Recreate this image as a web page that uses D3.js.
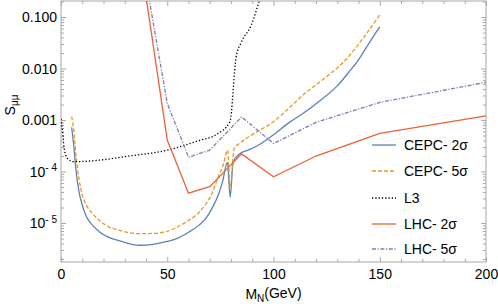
<!DOCTYPE html>
<html>
<head>
<meta charset="utf-8">
<script src="https://cdn.jsdelivr.net/npm/d3@7"></script>
<style>
body { margin: 0; background: #fff; }
text { font-family: "Liberation Sans", Arial, sans-serif; }
</style>
</head>
<body>
<div id="chart"></div>
<script>
var width = 498;
var height = 304;

// [M_N (GeV), S_mumu]
var cepc2sigma = [[5,7.2e-4],[6,3.2e-4],[7,1.12e-4],[8.5,4.0e-5],[10,2.24e-5],[12,1.32e-5],[15,8.9e-6],
  [18,6.8e-6],[22,5.4e-6],[26,4.7e-6],[30,4.2e-6],[37,3.7e-6],[44,3.9e-6],[50,4.4e-6],[55,5.1e-6],
  [60,6.6e-6],[65,9.1e-6],[68,1.2e-5],[71,1.9e-5],[74,3.5e-5],[76,6.3e-5],[78.3,1.5e-4],[79.6,3.2e-5],
  [81,1.5e-4],[84,2.2e-4],[88,2.6e-4],[92,3.1e-4],[100,5.2e-4],[107,8.7e-4],[114,1.35e-3],[122,2.4e-3],
  [130,4.6e-3],[136,9.1e-3],[140,1.48e-2],[144,2.7e-2],[150,6.5e-2]];

var cepc5sigma = [[5,1.17e-3],[6,6.5e-4],[7,2.2e-4],[8.5,7.1e-5],[10,3.5e-5],[12,2.2e-5],[15,1.5e-5],
  [21,9.1e-6],[28,7.1e-6],[37,6.2e-6],[44,6.3e-6],[50,6.9e-6],[55,8.5e-6],[60,1.12e-5],[65,1.62e-5],
  [68,2.3e-5],[71,3.7e-5],[74,7.9e-5],[76.5,1.4e-4],[78.4,2.6e-4],[79.6,5.1e-5],[81.5,2.8e-4],
  [84,3.5e-4],[90,5.2e-4],[100,9.3e-4],[107,1.66e-3],[114,3.1e-3],[123,6.0e-3],[134,1.48e-2],
  [142,3.8e-2],[150,0.11]];

var l3 = [[0,1.05e-3],[0.7,6.3e-4],[1.5,2.8e-4],[3,1.8e-4],[6,1.55e-4],[18,1.66e-4],[30,1.95e-4],
  [50,2.6e-4],[65,4.0e-4],[73,5.2e-4],[79.5,9.3e-4],[82.4,1.66e-2],[84.8,3.2e-2],[89.5,6.9e-2],
  [93.4,0.21],[96,0.45]];

var lhc2sigma = [[40,0.25],[50,4.1e-4],[60,3.8e-5],[70,5.1e-5],[85,2.2e-4],[100,7.9e-5],[120,2.0e-4],
  [150,5.5e-4],[200,1.2e-3]];

var lhc5sigma = [[40,0.5],[50,2.1e-3],[60,1.9e-4],[70,2.6e-4],[85,1.15e-3],[100,3.5e-4],[120,9.0e-4],
  [150,2.2e-3],[200,5.4e-3]];

var xTicks = [0, 50, 100, 150, 200];
var yTicks = [1e-5, 1e-4, 1e-3, 1e-2, 1e-1];
var yTickLabels = ["10|-5", "10|-4", "0.001", "0.010", "0.100"];

var legendNames = ["CEPC- 2\u03c3", "CEPC- 5\u03c3", "L3", "LHC- 2\u03c3", "LHC- 5\u03c3"];

// styles
var series = [
  {data: cepc2sigma, color: "#5e81b5", dash: null, curve: d3.curveMonotoneX},
  {data: cepc5sigma, color: "#e19c24", dash: "4,2", curve: d3.curveMonotoneX},
  {data: l3, color: "#000000", dash: "1.3,2", curve: d3.curveMonotoneX},
  {data: lhc2sigma, color: "#eb6235", dash: null, curve: d3.curveLinear},
  {data: lhc5sigma, color: "#8778b3", dash: "4,1.6,1.2,1.6", curve: d3.curveLinear}
];

var plotLeft = 61, plotRight = 486, plotTop = 1, plotBottom = 262;
var frameColor = "#a8a8a8";

var svg = d3.select("#chart").append("svg")
  .attr("width", width)
  .attr("height", height);

var x = d3.scaleLinear().domain([0, 200]).range([plotLeft, plotRight]);
var y = d3.scaleLog().domain([1.75e-6, 0.205]).range([plotBottom, plotTop]);

// minor tick positions
var xMinor = d3.range(0, 201, 10).filter(function(v){ return v % 50 != 0; });
var yMinor = [];
[1e-6, 1e-5, 1e-4, 1e-3, 1e-2, 1e-1].forEach(function(d){
  for (var k = 2; k <= 9; k++) {
    var v = d * k;
    if (v > 1.75e-6 && v < 0.205) yMinor.push(v);
  }
});

function styleAxis(g){
  g.select(".domain").remove();
  g.selectAll("line").attr("stroke", frameColor);
  g.selectAll("text").attr("fill", "#000").style("font-size", "14px")
   .style("font-family", "'Liberation Sans', Arial, sans-serif");
}

// bottom axis
svg.append("g").attr("transform", "translate(0," + plotBottom + ")")
  .call(d3.axisBottom(x).tickValues(xTicks).tickSize(-5).tickPadding(7).tickFormat(d3.format("d")))
  .call(styleAxis);
svg.append("g").attr("transform", "translate(0," + plotBottom + ")")
  .call(d3.axisBottom(x).tickValues(xMinor).tickSize(-3).tickFormat(""))
  .call(styleAxis);
// top axis
svg.append("g").attr("transform", "translate(0," + plotTop + ")")
  .call(d3.axisTop(x).tickValues(xTicks).tickSize(-5).tickFormat(""))
  .call(styleAxis);
svg.append("g").attr("transform", "translate(0," + plotTop + ")")
  .call(d3.axisTop(x).tickValues(xMinor).tickSize(-3).tickFormat(""))
  .call(styleAxis);

// left axis
var yAxisG = svg.append("g").attr("transform", "translate(" + plotLeft + ",0)")
  .call(d3.axisLeft(y).tickValues(yTicks).tickSize(-5).tickPadding(4)
    .tickFormat(function(d, i){ return yTickLabels[i]; }))
  .call(styleAxis);
yAxisG.selectAll("text").each(function(){
  var t = d3.select(this);
  var parts = t.text().split("|");
  if (parts.length == 2) {
    t.text(parts[0]);
    t.append("tspan").attr("dy", "-0.55em").style("font-size", "10px").text(parts[1].replace("-", "- "));
  }
});
svg.append("g").attr("transform", "translate(" + plotLeft + ",0)")
  .call(d3.axisLeft(y).tickValues(yMinor).tickSize(-3).tickFormat(""))
  .call(styleAxis);
// right axis
svg.append("g").attr("transform", "translate(" + plotRight + ",0)")
  .call(d3.axisRight(y).tickValues(yTicks).tickSize(-5).tickFormat(""))
  .call(styleAxis);
svg.append("g").attr("transform", "translate(" + plotRight + ",0)")
  .call(d3.axisRight(y).tickValues(yMinor).tickSize(-3).tickFormat(""))
  .call(styleAxis);

// frame
svg.append("rect")
  .attr("x", plotLeft).attr("y", plotTop)
  .attr("width", plotRight - plotLeft).attr("height", plotBottom - plotTop)
  .attr("fill", "none").attr("stroke", frameColor).attr("stroke-width", 1);

// clip
svg.append("clipPath").attr("id", "plotclip")
  .append("rect").attr("x", plotLeft).attr("y", plotTop)
  .attr("width", plotRight - plotLeft).attr("height", plotBottom - plotTop);

var plot = svg.append("g").attr("clip-path", "url(#plotclip)");

series.forEach(function(s){
  var line = d3.line()
    .x(function(d){ return x(d[0]); })
    .y(function(d){ return y(d[1]); })
    .curve(s.curve);
  plot.append("path")
    .attr("d", line(s.data))
    .attr("fill", "none")
    .attr("stroke", s.color)
    .attr("stroke-width", 1.3)
    .attr("stroke-dasharray", s.dash);
});

// legend
var legendY = [145, 171, 198, 224, 249];
var legend = svg.append("g");
series.forEach(function(s, i){
  legend.append("line")
    .attr("x1", 372).attr("x2", 396)
    .attr("y1", legendY[i]).attr("y2", legendY[i])
    .attr("stroke", s.color).attr("stroke-width", 1.3)
    .attr("stroke-dasharray", s.dash);
  legend.append("text")
    .attr("x", 404).attr("y", legendY[i]).attr("dy", "0.35em")
    .style("font-size", "14px")
    .text(legendNames[i]);
});

// axis titles
var xt = svg.append("text")
  .attr("x", (plotLeft + plotRight) / 2).attr("y", 299)
  .attr("text-anchor", "middle")
  .style("font-size", "14px");
xt.append("tspan").text("M");
xt.append("tspan").attr("dy", "0.3em").style("font-size", "10px").text("N");
xt.append("tspan").attr("dy", "-0.3em").text("(GeV)");

var yt = svg.append("text")
  .attr("transform", "translate(15,105) rotate(-90)")
  .attr("text-anchor", "middle")
  .style("font-size", "14px");
yt.append("tspan").text("S");
yt.append("tspan").attr("dy", "0.3em").style("font-size", "10px").text("\u03bc\u03bc");
</script>
</body>
</html>
